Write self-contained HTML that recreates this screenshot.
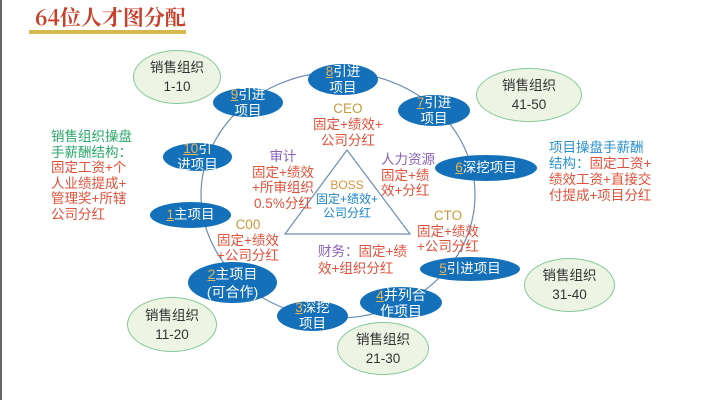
<!DOCTYPE html>
<html><head><meta charset="utf-8"><style>
body{margin:0;width:706px;height:400px;overflow:hidden;background:#fff;position:relative;font-family:"Liberation Sans","Noto Sans CJK SC",sans-serif;}
.t{position:absolute;white-space:nowrap;line-height:1.2;}
.b{position:absolute;background:#1570ba;border-radius:50%;color:#fff;font-size:13.5px;display:flex;align-items:center;justify-content:center;text-align:center;line-height:16px;}
.b i{font-style:normal;color:#e3b55a;text-decoration:underline;}
.g{position:absolute;background:#eef4e3;border:1.5px solid #86c99a;border-radius:50%;color:#333;font-size:13.5px;display:flex;align-items:center;justify-content:center;text-align:center;line-height:19px;box-sizing:border-box;}
.r{color:#e0503a}
</style></head><body>
<div style="position:absolute;left:0;top:0;width:2px;height:400px;background:#666"></div>
<div class="t" style="left:35px;top:5px;font-size:21px;font-weight:bold;color:#c8402a;font-family:'Noto Serif CJK SC',serif;">64位人才图分配</div>
<div style="position:absolute;left:29px;top:30px;width:157px;height:4px;background:#d6b94c"></div>
<svg style="position:absolute;left:0;top:0" width="706" height="400">
<ellipse cx="338" cy="195" rx="137" ry="123" fill="none" stroke="#6f8db0" stroke-width="1.2"/>
<polygon points="347,150 285,234 410,234" fill="none" stroke="#6f8db0" stroke-width="1.2"/>
</svg>
<div class="g" style="left:133px;top:50px;width:88px;height:54px">销售组织<br>1-10</div>
<div class="g" style="left:476px;top:68px;width:106px;height:54px">销售组织<br>41-50</div>
<div class="g" style="left:127px;top:297px;width:90px;height:55px">销售组织<br>11-20</div>
<div class="g" style="left:337px;top:322px;width:92px;height:53px">销售组织<br>21-30</div>
<div class="g" style="left:524px;top:258px;width:91px;height:54px">销售组织<br>31-40</div>
<div class="b" style="left:308px;top:64px;width:70px;height:31px"><span><i>8</i>引进<br>项目</span></div>
<div class="b" style="left:213px;top:88px;width:70px;height:29px"><span><i>9</i>引进<br>项目</span></div>
<div class="b" style="left:398px;top:95px;width:72px;height:31px"><span><i>7</i>引进<br>项目</span></div>
<div class="b" style="left:163px;top:143px;width:69px;height:28px"><span><i>10</i>引<br>进项目</span></div>
<div class="b" style="left:435px;top:155px;width:102px;height:26px"><span><i>6</i>深挖项目</span></div>
<div class="b" style="left:150px;top:202px;width:81px;height:26px"><span><i>1</i>主项目</span></div>
<div class="b" style="left:188px;top:262px;width:89px;height:41px;font-size:14px;line-height:18px"><span><i>2</i>主项目<br>(可合作)</span></div>
<div class="b" style="left:420px;top:257px;width:100px;height:24px"><span><i>5</i>引进项目</span></div>
<div class="b" style="left:360px;top:287px;width:82px;height:31px;font-size:14px"><span><i>4</i>并列合<br>作项目</span></div>
<div class="b" style="left:277px;top:301px;width:71px;height:30px"><span><i>3</i>深挖<br>项目</span></div>
<div class="t" style="left:313px;top:101px;font-size:13.5px;text-align:center;line-height:16px"><span style="color:#c89a3c">CEO</span><br><span class="r">固定+绩效+<br>公司分红</span></div>
<div class="t" style="left:252px;top:149px;font-size:13.5px;text-align:center;line-height:15.5px"><span style="color:#8a62b8">审计</span><br><span class="r">固定+绩效<br>+所审组织<br>0.5%分红</span></div>
<div class="t" style="left:381px;top:152px;font-size:13.5px;line-height:15.5px"><span style="color:#8a62b8">人力资源</span><br><span class="r">固定+绩<br>效+分红</span></div>
<div class="t" style="left:316px;top:178px;font-size:12px;text-align:center;line-height:14px"><span style="color:#e0943a">BOSS</span><br><span style="color:#1a86c8">固定+绩效+<br>公司分红</span></div>
<div class="t" style="left:217px;top:217px;font-size:13.5px;text-align:center;line-height:15.5px"><span style="color:#c89a3c">C00</span><br><span class="r">固定+绩效<br>+公司分红</span></div>
<div class="t" style="left:417px;top:208px;font-size:13.5px;text-align:center;line-height:15.5px"><span style="color:#c89a3c">CTO</span><br><span class="r">固定+绩效<br>+公司分红</span></div>
<div class="t" style="left:318px;top:243px;font-size:13.5px;line-height:17px"><span style="color:#8a62b8">财务：</span><span class="r">固定+绩<br>效+组织分红</span></div>
<div class="t" style="left:51px;top:129px;font-size:13.5px;line-height:15.5px"><span style="color:#2aa86a">销售组织操盘<br>手薪酬结构：</span><br><span class="r">固定工资+个<br>人业绩提成+<br>管理奖+所辖<br>公司分红</span></div>
<div class="t" style="left:549px;top:140px;font-size:13.5px;line-height:16px"><span style="color:#2a90d0">项目操盘手薪酬</span><br><span style="color:#2a90d0">结构：</span><span class="r">固定工资+<br>绩效工资+直接交<br>付提成+项目分红</span></div>
</body></html>
